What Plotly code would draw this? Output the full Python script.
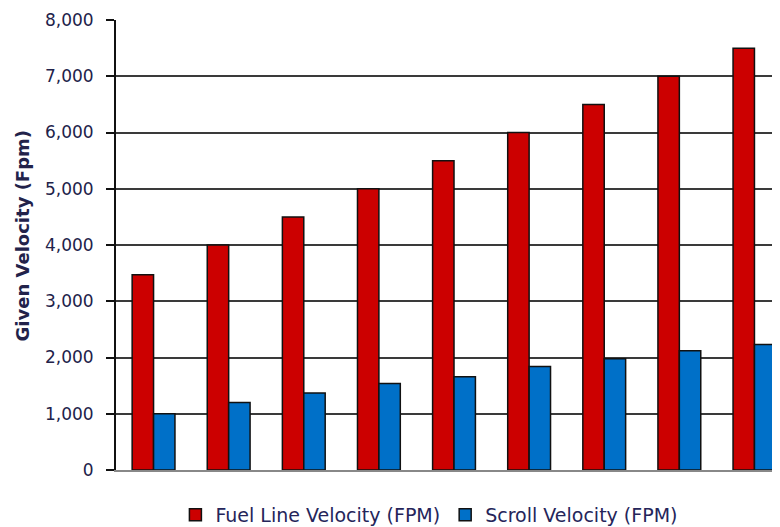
import plotly.graph_objects as go

categories = ["1", "2", "3", "4", "5", "6", "7", "8", "9"]
fuel_line = [3470, 4000, 4500, 5000, 5500, 6000, 6500, 7000, 7500]
scroll = [1000, 1200, 1370, 1540, 1660, 1840, 1980, 2120, 2230]
y_ticks = [0, 1000, 2000, 3000, 4000, 5000, 6000, 7000, 8000]
y_tick_text = ["0", "1,000", "2,000", "3,000", "4,000", "5,000", "6,000", "7,000", "8,000"]
y_title = "Given Velocity (Fpm)"

fig = go.Figure()
fig.add_trace(go.Bar(
    x=categories, y=fuel_line, name="Fuel Line Velocity (FPM)",
    marker=dict(color="#CC0000", line=dict(color="#111111", width=1.5)),
))
fig.add_trace(go.Bar(
    x=categories, y=scroll, name="Scroll Velocity (FPM)",
    marker=dict(color="#0070C8", line=dict(color="#111111", width=1.5)),
))

fig.update_layout(
    width=772, height=519,
    margin=dict(l=108, r=0, t=12, b=57, autoexpand=False),
    paper_bgcolor="white", plot_bgcolor="white",
    barmode="group", bargap=0.43, bargroupgap=0,
    font=dict(family="DejaVu Sans, sans-serif", color="#22224a", size=17),
    legend=dict(orientation="h", x=0.472, xanchor="center", y=-0.1, yanchor="middle",
                font=dict(size=19, color="#25255a"), itemwidth=30, traceorder="normal"),
    xaxis=dict(type="category", range=[-0.5, 8.34], showticklabels=False, automargin=False,
               showline=True, linecolor="#888888", linewidth=1.5, showgrid=False, ticks=""),
    yaxis=dict(range=[0, 8000], tickvals=y_ticks, ticktext=y_tick_text, automargin=False,
               showgrid=True, gridcolor="#3a3a3a", gridwidth=1.8,
               showline=True, linecolor="#111111", linewidth=2,
               ticks="outside", ticklen=8, tickcolor="#111111", tickwidth=1.5,
               ticklabelstandoff=9,
               tickfont=dict(size=17, color="#22224a"),
               zeroline=False),
    annotations=[dict(text="<b>" + y_title + "</b>", xref="paper", yref="paper",
                      x=-0.141, y=0.522, xanchor="center", yanchor="middle",
                      textangle=-90, showarrow=False,
                      font=dict(size=18, color="#22224a"))],
)

fig.write_html("out.html")
